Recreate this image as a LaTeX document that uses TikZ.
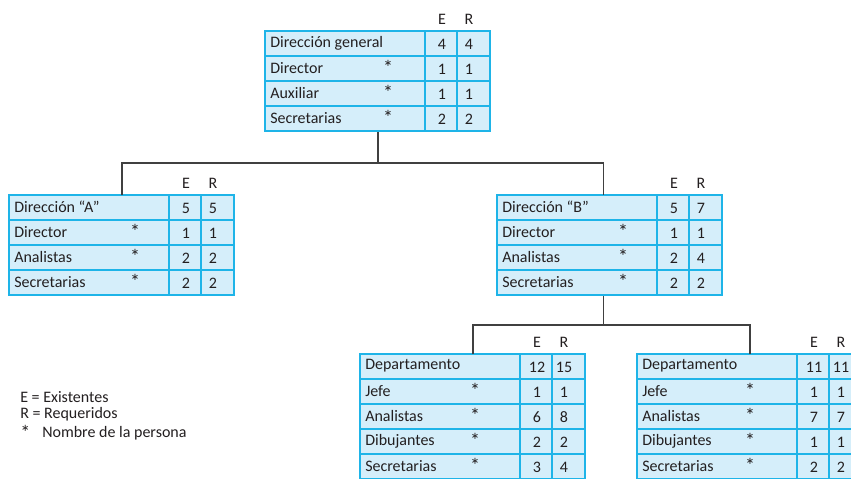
\documentclass[tikz,border=0pt]{standalone}
\usepackage{fontspec}
\setmainfont{Carlito}
\definecolor{celda}{HTML}{D5EEFA}
\definecolor{borde}{HTML}{1EB4E8}
\definecolor{linea}{HTML}{404040}
\definecolor{texto}{HTML}{231F20}
\tikzset{
  caja/.style={draw=borde,fill=celda,line width=0.9pt,inner sep=0pt,anchor=north west,minimum width=168.75pt},
  rejilla/.style={draw=borde,line width=0.9pt},
  conector/.style={draw=linea,line width=1.1pt},
  etiq/.style={anchor=west,inner sep=0pt,text=texto},
  num/.style={inner sep=0pt,text=texto},
  ast/.style={inner sep=0pt,text=texto,font=\fontsize{15}{15}\selectfont}
}
% #1 nombre, #2 izq, #3 arriba, #4 pos. del asterisco, #5 filas, #6 lista
\newcommand\cuadro[6]{%
  \node[caja,minimum height=#5*18.75pt] (#1) at (#2,#3) {};
  \begin{scope}[shift={(#2,#3)}]
    \node[num] at (177,-12) {E};
    \node[num] at (204,-12) {R};
    \foreach \lab/\st/\e/\r [count=\i from 0] in {#6}{
      \draw[rejilla] (0,25*\i) rectangle (160,25*\i+25) (160,25*\i) rectangle (192,25*\i+25) (192,25*\i) rectangle (225,25*\i+25);
      \node[etiq] at (5,25*\i+12) {\lab};
      \node[ast] at (#4,25*\i+11) {\st};
      \node[num] at (177,25*\i+13) {\e};
      \node[num] at (204,25*\i+13) {\r};
    }
  \end{scope}}
\begin{document}
\begin{tikzpicture}[x=0.75pt,y=-0.75pt,font=\fontsize{12}{14}\selectfont]
  \clip (0,0) rectangle (851,479);
  \fill[white] (0,0) rectangle (851,479);
  \cuadro{dg}{265}{31}{123}{4}{Dirección general/{}/4/4,Director/*/1/1,Auxiliar/*/1/1,Secretarias/*/2/2}
  \cuadro{da}{9}{195}{126}{4}{Dirección “A”/{}/5/5,Director/*/1/1,Analistas/*/2/2,Secretarias/*/2/2}
  \cuadro{db}{497}{195}{126}{4}{Dirección “B”/{}/5/7,Director/*/1/1,Analistas/*/2/4,Secretarias/*/2/2}
  \cuadro{d1}{360}{354}{115}{5}{Departamento/{}/12/15,Jefe/*/1/1,Analistas/*/6/8,Dibujantes/*/2/2,Secretarias/*/3/4}
  \cuadro{d2}{637}{354}{113}{5}{Departamento/{}/11/11,Jefe/*/1/1,Analistas/*/7/7,Dibujantes/*/1/1,Secretarias/*/2/2}
  % lineas del organigrama
  \draw[conector] (dg.south) -- ++(0,31) coordinate (r1);
  \draw[conector] (da.north) |- (r1) -| ([xshift=-5pt]db.north);
  \draw[conector] ([xshift=-5pt]db.south) -- ++(0,29) coordinate (r2);
  \draw[conector] (d1.north) |- (r2) -| (d2.north);
  % leyenda
  \node[etiq] (le) at (20,397) {E = Existentes};
  \node[etiq] (lr) at (20,414) {R = Requeridos};
  \node[ast,anchor=west] (ls) at (20,432) {*};
  \node[etiq] (ln) at (42,433) {Nombre de la persona};
\end{tikzpicture}
\end{document}
